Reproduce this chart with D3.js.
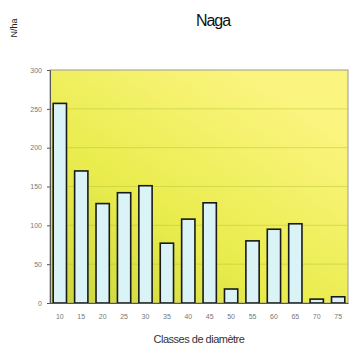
<!DOCTYPE html>
<html><head><meta charset="utf-8">
<script src="https://cdn.jsdelivr.net/npm/d3@7"></script>
<style>body{margin:0;background:#fff;}svg{display:block;}</style>
</head><body>
<script>
const categories = ["10","15","20","25","30","35","40","45","50","55","60","65","70","75"];
const values = [257, 170, 128, 142, 151, 77, 108, 129, 18, 80, 95, 102, 5, 8];
const yTicks = [0, 50, 100, 150, 200, 250, 300];
const title = "Naga";
const xTitle = "Classes de diamètre";
const yTitle = "N/ha";

const W = 353, H = 358;
const m = {left: 50, right: 5, top: 70, bottom: 55};
const svg = d3.select("body").append("svg").attr("width", W).attr("height", H);
const defs = svg.append("defs");
const grad = defs.append("linearGradient").attr("id", "bg")
  .attr("x1", 0).attr("y1", 1).attr("x2", 0.75).attr("y2", 0.1);
grad.append("stop").attr("offset", 0).attr("stop-color", "#c9d63e");
grad.append("stop").attr("offset", 0.45).attr("stop-color", "#e9ec4c");
grad.append("stop").attr("offset", 1).attr("stop-color", "#fbf47e");

const x = d3.scaleBand().domain(categories).range([m.left, W - m.right]).paddingInner(0.38).paddingOuter(0.15);
const y = d3.scaleLinear().domain([0, 300]).range([H - m.bottom, m.top]);

svg.append("rect").attr("x", m.left).attr("y", m.top)
  .attr("width", W - m.right - m.left).attr("height", H - m.bottom - m.top)
  .attr("fill", "url(#bg)").attr("stroke", "#999").attr("stroke-width", 1);

svg.append("g").selectAll("line").data(yTicks.slice(1, -1)).join("line")
  .attr("x1", m.left).attr("x2", W - m.right)
  .attr("y1", d => y(d)).attr("y2", d => y(d))
  .attr("stroke", "#b6c43a").attr("stroke-width", 0.8).attr("opacity", 0.6);

svg.append("g").selectAll("rect").data(values).join("rect")
  .attr("x", (d, i) => x(categories[i]))
  .attr("y", d => y(d))
  .attr("width", x.bandwidth())
  .attr("height", d => y(0) - y(d))
  .attr("fill", "#d9f3f6").attr("stroke", "#1a1a1a").attr("stroke-width", 1.6);

const ya = svg.append("g").attr("transform", `translate(${m.left},0)`)
  .call(d3.axisLeft(y).tickValues(yTicks).tickSize(3).tickPadding(5).tickFormat(d3.format("d")));
ya.select(".domain").attr("stroke", "#555");
ya.selectAll("text").attr("font-family", "Liberation Sans, Arial, sans-serif").attr("font-size", 7).attr("fill", "#777");
ya.selectAll(".tick line").attr("stroke", "#555");

const xa = svg.append("g").attr("transform", `translate(0,${H - m.bottom})`)
  .call(d3.axisBottom(x).tickSize(0).tickPadding(11));
xa.select(".domain").attr("stroke", "#555");
xa.selectAll("text").attr("font-family", "Liberation Sans, Arial, sans-serif").attr("font-size", 7).attr("fill", "#777");

svg.append("text").attr("x", 213).attr("y", 26).attr("text-anchor", "middle")
  .attr("font-family", "Liberation Sans, Arial, sans-serif").attr("font-size", 16).attr("fill", "#111")
  .attr("letter-spacing", -1).text(title);

svg.append("text").attr("x", 199).attr("y", 343).attr("text-anchor", "middle")
  .attr("font-family", "Liberation Sans, Arial, sans-serif").attr("font-size", 11).attr("fill", "#333")
  .attr("letter-spacing", -0.5).text(xTitle);

svg.append("text").attr("transform", "translate(17,28) rotate(-90)").attr("text-anchor", "middle")
  .attr("font-family", "Liberation Sans, Arial, sans-serif").attr("font-size", 9).attr("fill", "#222")
  .text(yTitle);
</script>
</body></html>
